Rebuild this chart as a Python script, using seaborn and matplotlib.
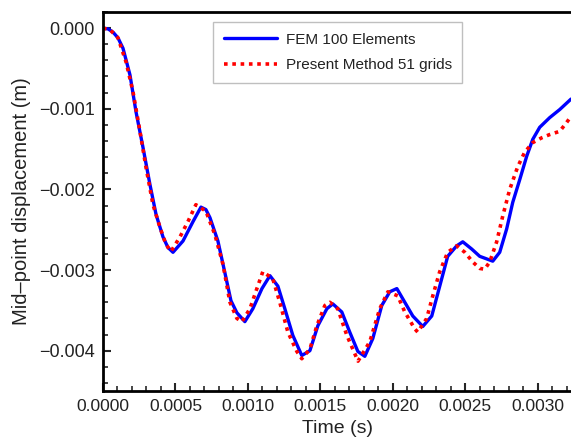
import matplotlib
matplotlib.use("Agg")
import matplotlib.pyplot as plt
from matplotlib.ticker import MultipleLocator, FuncFormatter
import seaborn as sns
import pandas as pd

# FEM 100 Elements (blue, solid)
fem_t = [0.0, 0.000035, 0.000069, 0.000103, 0.000138, 0.000186, 0.000228, 0.000276, 0.000324, 0.000366,
         0.000414, 0.000448, 0.000483, 0.000552, 0.000621, 0.000676, 0.00071, 0.000738, 0.000793, 0.000848,
         0.000883, 0.000924, 0.000979, 0.001034, 0.001097, 0.001152, 0.001207, 0.001255, 0.00131, 0.001372,
         0.001428, 0.001483, 0.001545, 0.001586, 0.001648, 0.001703, 0.001759, 0.001807, 0.001862, 0.001924,
         0.001979, 0.002028, 0.002083, 0.002138, 0.002207, 0.002269, 0.002324, 0.002379, 0.002441, 0.002483,
         0.002545, 0.0026, 0.00269, 0.002738, 0.002786, 0.002828, 0.002876, 0.002924, 0.002966, 0.003014,
         0.003083, 0.003152, 0.00323]
fem_y = [0.0, -0.00001, -0.00005, -0.00012, -0.00025, -0.00058, -0.00104, -0.00148, -0.00194, -0.00231,
         -0.00259, -0.00272, -0.00278, -0.00264, -0.0024, -0.00222, -0.00225, -0.00235, -0.00264, -0.00309,
         -0.00338, -0.00353, -0.00364, -0.00348, -0.00323, -0.00307, -0.0032, -0.00348, -0.00381, -0.00406,
         -0.004, -0.00369, -0.00348, -0.00342, -0.00352, -0.00377, -0.00401, -0.00407, -0.00385, -0.00344,
         -0.00327, -0.00323, -0.0034, -0.00357, -0.0037, -0.00357, -0.0032, -0.00283, -0.0027, -0.00265,
         -0.00274, -0.00283, -0.00289, -0.00278, -0.00249, -0.00216, -0.00188, -0.00159, -0.00138, -0.00123,
         -0.00111, -0.00101, -0.00088]

# Present Method 51 grids (red, dotted)
pm_t = [0.0, 0.000048, 0.000103, 0.000159, 0.000207, 0.000255, 0.000297, 0.000345, 0.000393, 0.000434,
        0.000469, 0.000531, 0.000586, 0.000641, 0.00071, 0.000772, 0.000828, 0.000876, 0.000924, 0.000959,
        0.001014, 0.001062, 0.001103, 0.001172, 0.00122, 0.001276, 0.001338, 0.001372, 0.001428, 0.001476,
        0.001531, 0.001566, 0.00162, 0.001683, 0.00176, 0.001841, 0.00191, 0.001966, 0.002034, 0.002083,
        0.002152, 0.002172, 0.002234, 0.002276, 0.002324, 0.002379, 0.002441, 0.002497, 0.002552, 0.0026,
        0.002634, 0.002669, 0.002717, 0.002759, 0.002807, 0.002862, 0.00291, 0.002966, 0.003028, 0.003083,
        0.003152, 0.0032, 0.003228]
pm_y = [0.0, -0.00002, -0.00012, -0.00042, -0.00079, -0.00128, -0.00173, -0.00219, -0.00247, -0.00268,
        -0.00277, -0.00259, -0.0024, -0.00219, -0.00227, -0.00256, -0.00293, -0.0034, -0.0036, -0.00364,
        -0.00348, -0.00323, -0.00302, -0.00311, -0.0034, -0.00377, -0.00401, -0.0041, -0.00398, -0.00369,
        -0.00344, -0.0034, -0.00348, -0.00381, -0.00413, -0.00389, -0.00348, -0.00327, -0.00332, -0.00352,
        -0.00373, -0.00377, -0.0036, -0.00332, -0.00302, -0.00278, -0.0027, -0.00278, -0.0029, -0.00298,
        -0.00299, -0.0029, -0.00265, -0.00233, -0.002, -0.00172, -0.00154, -0.00142, -0.00136, -0.00132,
        -0.00128, -0.00117, -0.0011]

fem = pd.DataFrame({"t": fem_t, "y": fem_y})
pm = pd.DataFrame({"t": pm_t, "y": pm_y})

sns.set_style("ticks")
plt.rcParams["font.family"] = ["Liberation Sans", "DejaVu Sans"]

fig = plt.figure(figsize=(5.71, 4.44), dpi=100)
ax = fig.add_axes([0.1804, 0.1194, 0.8196, 0.8536])

sns.lineplot(data=fem, x="t", y="y", ax=ax, color="#0000ff", linewidth=2.4,
             label="FEM 100 Elements", sort=False, solid_joinstyle="round")
sns.lineplot(data=pm, x="t", y="y", ax=ax, color="#ff0000", linewidth=2.6,
             linestyle=(0, (1.0, 1.3)), label="Present Method 51 grids", sort=False)

ax.set_xlim(0, 0.00323)
ax.set_ylim(-0.0045, 0.0002)

ax.xaxis.set_major_locator(MultipleLocator(0.0005))
ax.xaxis.set_minor_locator(MultipleLocator(0.0001))
ax.yaxis.set_major_locator(MultipleLocator(0.001))
ax.yaxis.set_minor_locator(MultipleLocator(0.0002))


def fmt(digits):
    def f(v, pos):
        s = f"{abs(v):.{digits}f}"
        return ("\u2212" + s) if v < -1e-12 else s
    return FuncFormatter(f)


ax.xaxis.set_major_formatter(fmt(4))
ax.yaxis.set_major_formatter(fmt(3))

ax.tick_params(which="major", direction="in", length=6, width=1.5,
               labelcolor="#222222", pad=6)
ax.tick_params(axis="x", labelsize=12.5)
ax.tick_params(axis="y", labelsize=13)
ax.tick_params(which="minor", direction="in", length=3.5, width=1.2)
ax.tick_params(top=False, right=False, which="both")

for side in ["left", "bottom", "top"]:
    ax.spines[side].set_linewidth(2)
    ax.spines[side].set_color("black")
ax.spines["right"].set_visible(False)

ax.set_xlabel("Time (s)", fontsize=14, color="#222222", labelpad=4)
ax.set_ylabel("Mid\u2013point displacement (m)", fontsize=14.5, color="#222222", labelpad=6)

leg = ax.legend(loc="upper left", bbox_to_anchor=(0.235, 0.974), frameon=True,
                fancybox=False, fontsize=11, handlelength=3.5, borderpad=0.7,
                labelspacing=0.75, handletextpad=0.55, borderaxespad=0)
leg.get_frame().set_edgecolor("#b0b0b0")
leg.get_frame().set_linewidth(1.0)
for txt in leg.get_texts():
    txt.set_color("#222222")

fig.savefig("out.png", dpi=100)
